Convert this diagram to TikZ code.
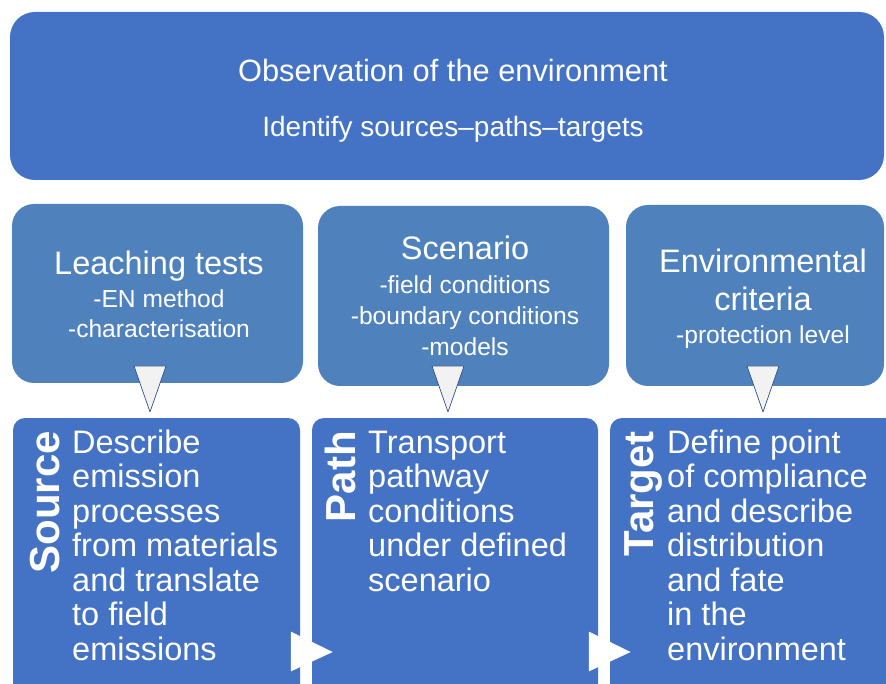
\documentclass[tikz,border=0pt]{standalone}
\usepackage{fontspec}
\setmainfont{Liberation Sans}
\definecolor{darkblue}{HTML}{4472C4}
\definecolor{midblue}{HTML}{4F81BD}
\definecolor{tipgrey}{HTML}{F2F2F2}
\tikzset{plate/.style={fill=darkblue, inner sep=0pt}}
\tikzset{bigbox/.style={plate, rounded corners=25pt}}
\tikzset{callout/.style={fill=midblue, inner sep=0pt, rounded corners=22pt}}
\tikzset{stage/.style={plate, rounded corners=12pt}}
\tikzset{downtip/.style={fill=tipgrey, draw=darkblue!70!black, line width=0.7pt, line join=round}}
\tikzset{sidetip/.style={fill=white, draw=white, line width=0.5pt}}
\tikzset{txt/.style={text=white, inner sep=0pt, anchor=base}}
\tikzset{head/.style={txt, font=\fontsize{32.5}{38}\selectfont}}
\tikzset{sub/.style={txt, font=\fontsize{24.6}{30}\selectfont}}
\tikzset{body/.style={txt, anchor=base west, font=\fontsize{32.5}{34.5}\selectfont}}
\tikzset{vlabel/.style={txt, anchor=base east, rotate=90, font=\bfseries\fontsize{42}{42}\selectfont}}

\begin{document}
\begin{tikzpicture}[x=1pt, y=-1pt]
        \useasboundingbox (0,0) rectangle (886,684);
        \clip (0,0) rectangle (886,684);
        % Top box
        \node[bigbox, minimum width=874pt, minimum height=168pt] (obs) at (447,96) {};
        \node[txt, font=\fontsize{30.8}{36}\selectfont] (obs1) at (453,82) {Observation of the environment};
        \node[txt, font=\fontsize{28}{34}\selectfont] (obs2) at (453,137) {Identify sources–paths–targets};
        % Callouts
        \node[callout, minimum width=291pt, minimum height=179pt] (leach) at (157.5,293.5) {};
        \node[callout, minimum width=291pt, minimum height=180pt] (scen) at (463.5,296) {};
        \node[callout, minimum width=258pt, minimum height=181pt] (crit) at (755,295.5) {};
        \foreach \name/\xx/\yy/\sty/\line in {
          lt1/159/275/head/Leaching tests,
          lt2/159/308/sub/-EN method,
          lt3/159/338/sub/-characterisation,
          sc1/465/260/head/Scenario,
          sc2/465/294/sub/-field conditions,
          sc3/465/325/sub/-boundary conditions,
          sc4/465/356/sub/-models,
          cr1/763/273/head/Environmental,
          cr2/763/311/head/criteria,
          cr3/763/344/sub/-protection level%
        } {
          \node[\sty] (\name) at (\xx,\yy) {\line};
        }
        % Stages
        \node[stage, minimum width=287pt, minimum height=300pt] (src) at (156.5,568) {};
        \node[stage, minimum width=286pt, minimum height=300pt] (path) at (455,568) {};
        \node[stage, minimum width=300pt, minimum height=300pt] (tgt) at (760,568) {};
        \node[vlabel] (srclab) at (59,431) {Source};
        \node[vlabel] (pathlab) at (355,431) {Path};
        \node[vlabel] (tgtlab) at (653,431) {Target};
        \foreach \line [count=\i] in {Describe, emission, processes, from materials,
          and translate, to field, emissions} {
          \node[body] (src\i) at (72,{453+34.5*(\i-1)}) {\line};
        }
        \foreach \line [count=\i] in {Transport, pathway, conditions, under defined, scenario} {
          \node[body] (path\i) at (368,{453+34.5*(\i-1)}) {\line};
        }
        \foreach \line [count=\i] in {Define point, of compliance, and describe,
          distribution, and fate, in the, environment} {
          \node[body] (tgt\i) at (667,{453+34.5*(\i-1)}) {\line};
        }
        % Tips
        \foreach \x in {150,448,763} {
          \draw[downtip] (\x-16,366) -- (\x+16,366) -- (\x,412) -- cycle;
        }
        \foreach \x in {291,589} {
          \fill[sidetip] (\x,632) -- (\x+41,652) -- (\x,671) -- cycle;
        }
\end{tikzpicture}
\end{document}
